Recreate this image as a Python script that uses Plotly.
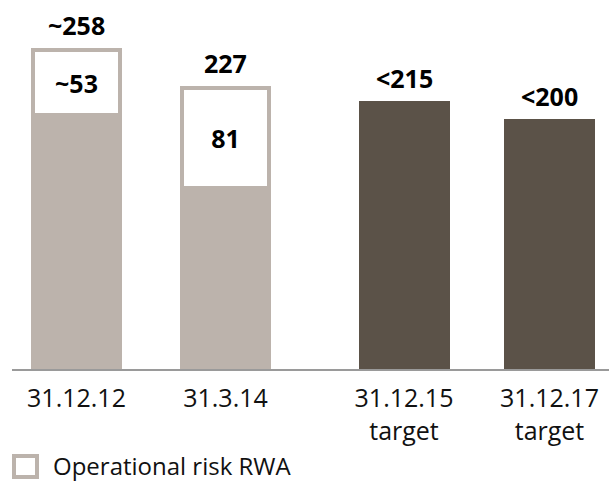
import plotly.graph_objects as go

# ---- data ----
categories = ["31.12.12", "31.3.14", "31.12.15<br>target", "31.12.17<br>target"]
total_labels = ["~258", "227", "<215", "<200"]
totals = [258, 227, 215, 200]
op_risk = [53, 81]              # operational risk RWA for the two actual dates
op_risk_labels = ["~53", "81"]
legend_label = "Operational risk RWA"

# ---- layout constants ----
x_pos = [76.5, 225.5, 404, 549.5]
bar_w = 87
light = "#BCB3AC"
dark = "#5B5248"
font = "Open Sans"

actual_idx = [0, 1]
target_idx = [2, 3]
non_op = [totals[i] - op_risk[k] for k, i in enumerate(actual_idx)]

fig = go.Figure()
# lower (non-operational) part of the actual bars
fig.add_trace(go.Bar(
    x=[x_pos[i] for i in actual_idx], y=non_op, width=bar_w,
    marker=dict(color=light, line=dict(color=light, width=4)),
    showlegend=False, hoverinfo="skip"))
# operational risk box
fig.add_trace(go.Bar(
    x=[x_pos[i] for i in actual_idx], y=op_risk, width=bar_w,
    base=non_op,
    marker=dict(color="white", line=dict(color=light, width=4)),
    text=op_risk_labels, textposition="inside", insidetextanchor="middle",
    textfont=dict(family=font, size=25, color="black", weight="bold"),
    showlegend=False, hoverinfo="skip"))
# target bars
fig.add_trace(go.Bar(
    x=[x_pos[i] for i in target_idx], y=[totals[i] for i in target_idx], width=bar_w,
    marker=dict(color=dark, line=dict(color=dark, width=4)),
    showlegend=False, hoverinfo="skip"))

for xp, t, lab in zip(x_pos, totals, total_labels):
    fig.add_annotation(x=xp, y=t, text=f"<b>{lab}</b>", showarrow=False,
                       yanchor="bottom", yshift=6,
                       font=dict(family=font, size=25, color="black"))

L, T, B = 12, 0, 112
W, H = 609, 481
pw, ph = W - L, H - T - B

def px_x(p):
    return (p - L) / pw

def px_y(p):
    return (H - B - p) / ph

fig.add_shape(type="rect", xref="paper", yref="paper",
              x0=px_x(14), x1=px_x(37), y0=px_y(477), y1=px_y(456),
              line=dict(color=light, width=4), fillcolor="white")
fig.add_annotation(xref="paper", yref="paper", x=px_x(51), y=px_y(465),
                   xanchor="left", yanchor="middle", showarrow=False,
                   text=legend_label, font=dict(family=font, size=24, color="#111"))

fig.update_layout(
    width=W, height=H, margin=dict(l=L, r=0, t=T, b=B),
    paper_bgcolor="white", plot_bgcolor="white",
    barmode="overlay", bargap=0,
    xaxis=dict(range=[L, W], tickvals=x_pos, ticktext=categories,
               showgrid=False, zeroline=False, showline=True,
               linecolor="#9A9A9A", linewidth=2, ticks="",
               ticklabelstandoff=6,
               tickfont=dict(family=font, size=25, color="#111")),
    yaxis=dict(range=[0, 369 / 1.238], visible=False, showgrid=False),
)

fig.write_html("out.html", config={"displayModeBar": False},
               post_script="document.body.style.margin='0';document.body.style.overflow='hidden';")
